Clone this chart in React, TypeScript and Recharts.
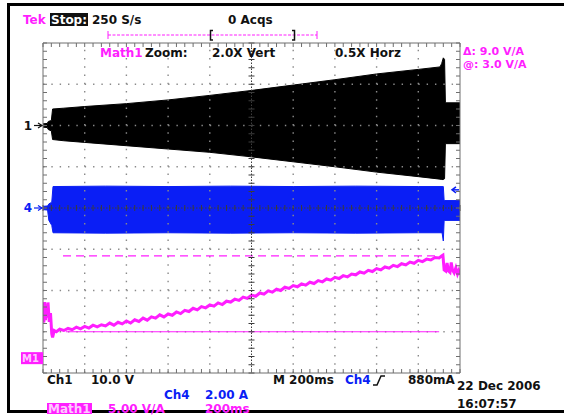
import React from 'react';
import { ComposedChart, Area, Line, XAxis, YAxis, ReferenceLine } from 'recharts';

const WIDTH = 564;
const HEIGHT = 415;
const FONT = "'DejaVu Sans', 'Liberation Sans', sans-serif";

const MAGENTA = '#ff1eff';
const BLUE = '#0a1ef5';
const GRID = '#8a8a8a';
const CENTER = '#3c3c3c';
const EDGE = '#6e6e6e';

// Graticule: 10 x 8 divisions, 5 minor steps per division
const xDomain: [number, number] = [0, 10];
const yDomain: [number, number] = [-4, 4];
const xGridLines = [1, 2, 3, 4, 6, 7, 8, 9];
const yGridLines = [-3, -2, -1, 1, 2, 3];
const xCenter = 5;
const yCenter = 0;
const minorPerDiv = 5;

// Channel ground references and trigger level (divisions)
const ch1Offset = 2;
const ch4Offset = 0;
const mathOffset = -3.64;
const triggerLevel = 0.44; // 880 mA at 2.00 A/div

// Horizontal bar cursors on Math1 (divisions) and their drawn span
const cursorUpper = -1.16;
const cursorLower = -3.0;
const cursorUpperSpan: [number, number] = [0.48, 9.52];
const cursorLowerSpan: [number, number] = [0.55, 9.5];

// Ch1 (10.0 V/div) envelope: [time div, low, high]
const ch1Envelope: [number, number, number][] = [
  [0, 1.96, 2.04],
  [0.1, 1.95, 2.05],
  [0.13, 1.9, 2.1],
  [0.2, 1.87, 2.12],
  [0.23, 1.66, 2.4],
  [0.5, 1.63, 2.42],
  [1, 1.59, 2.46],
  [2, 1.51, 2.53],
  [3, 1.43, 2.62],
  [4, 1.35, 2.73],
  [5, 1.24, 2.85],
  [6, 1.12, 2.98],
  [7, 1.0, 3.11],
  [8, 0.87, 3.25],
  [9, 0.76, 3.36],
  [9.52, 0.7, 3.42],
  [9.56, 0.69, 3.5],
  [9.6, 0.69, 3.64],
  [9.63, 0.71, 3.6],
  [9.65, 1.56, 2.55],
  [10, 1.56, 2.55],
];

// Ch4 (2.00 A/div) envelope: [time div, low, high]
const ch4Envelope: [number, number, number][] = [
  [0, -0.04, 0.04],
  [0.11, -0.05, 0.05],
  [0.14, -0.3, 0.1],
  [0.21, -0.42, 0.14],
  [0.24, -0.6, 0.52],
  [1.5, -0.61, 0.53],
  [3, -0.6, 0.52],
  [4.5, -0.61, 0.53],
  [6, -0.6, 0.52],
  [7.5, -0.61, 0.53],
  [9.0, -0.6, 0.52],
  [9.57, -0.6, 0.52],
  [9.6, -0.8, 0.52],
  [9.62, -0.3, 0.18],
  [10, -0.3, 0.18],
];

// Math1 (5.00 V/A) trace: [time div, value div]
const mathTrace: [number, number][] = [
  [0.0, -2.3], [0.02, -2.78], [0.04, -2.28], [0.06, -2.72], [0.08, -2.34], [0.1, -2.66],
  [0.12, -2.29], [0.15, -2.76], [0.18, -2.55], [0.21, -3.05], [0.23, -3.14], [0.27, -2.97],
  [0.32, -3.0], [0.4, -2.94], [0.5, -2.97], [0.6, -2.92], [0.7, -2.95], [0.8, -2.89],
  [0.9, -2.93], [1.0, -2.87], [1.1, -2.91], [1.2, -2.84], [1.3, -2.88], [1.4, -2.83],
  [1.5, -2.86], [1.6, -2.79], [1.7, -2.84], [1.8, -2.77], [1.9, -2.81], [2.0, -2.74],
  [2.1, -2.79], [2.2, -2.71], [2.3, -2.75], [2.4, -2.67], [2.5, -2.72], [2.6, -2.64],
  [2.7, -2.67], [2.8, -2.59], [2.9, -2.64], [3.0, -2.57], [3.1, -2.6], [3.2, -2.52],
  [3.3, -2.56], [3.4, -2.48], [3.5, -2.51], [3.6, -2.43], [3.7, -2.47], [3.8, -2.39],
  [3.9, -2.42], [4.0, -2.35], [4.1, -2.38], [4.2, -2.3], [4.3, -2.34], [4.4, -2.26],
  [4.5, -2.28], [4.6, -2.21], [4.7, -2.24], [4.8, -2.16], [4.9, -2.19], [5.0, -2.11],
  [5.1, -2.14], [5.2, -2.06], [5.3, -2.09], [5.4, -2.01], [5.5, -2.04], [5.6, -1.97],
  [5.7, -2.0], [5.8, -1.92], [5.9, -1.95], [6.0, -1.88], [6.1, -1.91], [6.2, -1.84],
  [6.3, -1.87], [6.4, -1.8], [6.5, -1.83], [6.6, -1.76], [6.7, -1.79], [6.8, -1.72],
  [6.9, -1.75], [7.0, -1.68], [7.1, -1.71], [7.2, -1.64], [7.3, -1.67], [7.4, -1.6],
  [7.5, -1.62], [7.6, -1.55], [7.7, -1.58], [7.8, -1.51], [7.9, -1.54], [8.0, -1.47],
  [8.1, -1.5], [8.2, -1.43], [8.3, -1.46], [8.4, -1.39], [8.5, -1.42], [8.6, -1.35],
  [8.7, -1.38], [8.8, -1.31], [8.9, -1.34], [9.0, -1.27], [9.1, -1.3], [9.2, -1.24],
  [9.3, -1.26], [9.4, -1.2], [9.5, -1.21], [9.56, -1.16], [9.59, -1.14], [9.62, -1.5],
  [9.66, -1.53], [9.69, -1.33], [9.72, -1.52], [9.76, -1.56], [9.79, -1.32], [9.82, -1.5],
  [9.86, -1.57], [9.9, -1.45], [9.94, -1.6], [9.97, -1.52], [10.0, -1.62],
];

const ch1Data = ch1Envelope.map(([t, lo, hi]) => ({ t, r: [lo, hi] }));
const ch4Data = ch4Envelope.map(([t, lo, hi]) => ({ t, r: [lo, hi] }));
const mathData = mathTrace.map(([t, v]) => ({ t, v }));

// Graticule line with minor-division ticks; side: +1/-1 inward direction, 0 = both
const tickedLine =
  (divs: number, side: number, len: number, color: string, dash?: string) =>
  (p: any) => {
    const { x1, y1, x2, y2 } = p;
    const horizontal = Math.abs(y1 - y2) < 0.5;
    const n = divs * minorPerDiv;
    const a = side === 0 ? -len / 2 : 0;
    const b = side === 0 ? len / 2 : side * len;
    const ticks = [];
    for (let i = 0; i <= n; i++) {
      const x = x1 + ((x2 - x1) * i) / n;
      const y = y1 + ((y2 - y1) * i) / n;
      ticks.push(
        horizontal ? (
          <line key={i} x1={x} x2={x} y1={y + a} y2={y + b} />
        ) : (
          <line key={i} x1={x + a} x2={x + b} y1={y} y2={y} />
        ),
      );
    }
    return (
      <g stroke={color} strokeWidth={1} fill="none">
        <line x1={x1} y1={y1} x2={x2} y2={y2} strokeDasharray={dash} />
        {ticks}
      </g>
    );
  };

const ChannelTag = ({ viewBox, text, color }: any) => {
  const { x, y } = viewBox;
  return (
    <g>
      <text
        x={x - 11}
        y={y}
        fill={color}
        fontSize={12}
        fontWeight="bold"
        fontFamily={FONT}
        textAnchor="end"
        dominantBaseline="central"
      >
        {text}
      </text>
      <line x1={x - 9} y1={y} x2={x - 1} y2={y} stroke={color} strokeWidth={1.2} />
      <path d={`M${x - 5},${y - 2.5} L${x - 1},${y} L${x - 5},${y + 2.5}`} fill="none" stroke={color} strokeWidth={1.2} />
    </g>
  );
};

const MathTag = ({ viewBox }: any) => {
  const { x, y } = viewBox;
  return (
    <g>
      <rect x={x - 22} y={y - 6} width={22} height={12} fill={MAGENTA} />
      <text x={x - 21} y={y + 0.5} fill="#ffc8ff" fontSize={10} fontWeight="bold" fontFamily={FONT} dominantBaseline="central">
        M1
      </text>
    </g>
  );
};

const TriggerTag = ({ viewBox }: any) => {
  const { x, y, width } = viewBox;
  const right = x + width;
  return (
    <g stroke={BLUE} strokeWidth={1.5} fill="none">
      <line x1={right - 7} y1={y} x2={right - 1} y2={y} />
      <path d={`M${right - 4},${y - 3} L${right - 8},${y} L${right - 4},${y + 3}`} />
    </g>
  );
};

const txt = (x: number, y: number, s: string, fill = '#111', size = 12) => (
  <text x={x} y={y} fill={fill} fontSize={size} fontWeight="bold" fontFamily={FONT} dominantBaseline="central">
    {s}
  </text>
);

export default function App() {
  return (
    <div style={{ position: 'absolute', left: 0, top: 0, width: WIDTH, height: HEIGHT, background: '#fff' }}>
      <ComposedChart width={WIDTH} height={HEIGHT} margin={{ top: 43, right: 104, bottom: 42, left: 43 }}>
        <XAxis type="number" dataKey="t" domain={xDomain} allowDataOverflow hide />
        <YAxis type="number" domain={yDomain} allowDataOverflow hide />

        {xGridLines.map((x) => (
          <ReferenceLine key={`gx${x}`} x={x} stroke={GRID} strokeWidth={1.4} strokeDasharray="1.4 6.85" />
        ))}
        {yGridLines.map((y) => (
          <ReferenceLine key={`gy${y}`} y={y} stroke={GRID} strokeWidth={1.4} strokeDasharray="1.4 6.94" />
        ))}

        <Area data={ch1Data} dataKey="r" type="linear" stroke="#000" strokeWidth={1} fill="#000" fillOpacity={1} isAnimationActive={false} />
        <Area data={ch4Data} dataKey="r" type="linear" stroke={BLUE} strokeWidth={1} fill={BLUE} fillOpacity={1} isAnimationActive={false} />
        <Line data={mathData} dataKey="v" type="linear" stroke={MAGENTA} strokeWidth={3} dot={false} isAnimationActive={false} />

        <ReferenceLine
          segment={[{ x: cursorUpperSpan[0], y: cursorUpper }, { x: cursorUpperSpan[1], y: cursorUpper }]}
          stroke={MAGENTA}
          strokeWidth={1.3}
          strokeDasharray="8 5"
        />
        <ReferenceLine
          segment={[{ x: cursorLowerSpan[0], y: cursorLower }, { x: cursorLowerSpan[1], y: cursorLower }]}
          stroke={MAGENTA}
          strokeWidth={1}
        />

        <ReferenceLine x={xCenter} shape={tickedLine(8, 0, 6, CENTER, '1.5 1.5')} />
        <ReferenceLine y={yCenter} shape={tickedLine(10, 0, 6, CENTER, '1.5 1.5')} />
        <ReferenceLine x={xDomain[0]} shape={tickedLine(8, 1, 4, EDGE)} />
        <ReferenceLine x={xDomain[1]} shape={tickedLine(8, -1, 4, EDGE)} />
        <ReferenceLine y={yDomain[1]} shape={tickedLine(10, 1, 4, EDGE)} />
        <ReferenceLine y={yDomain[0]} shape={tickedLine(10, -1, 4, EDGE)} />

        <ReferenceLine y={ch1Offset} stroke="none" label={(p: any) => <ChannelTag viewBox={p.viewBox} text="1" color="#111" />} />
        <ReferenceLine y={ch4Offset} stroke="none" label={(p: any) => <ChannelTag viewBox={p.viewBox} text="4" color={BLUE} />} />
        <ReferenceLine y={mathOffset} stroke="none" label={(p: any) => <MathTag viewBox={p.viewBox} />} />
        <ReferenceLine y={triggerLevel} stroke="none" label={(p: any) => <TriggerTag viewBox={p.viewBox} />} />
      </ComposedChart>

      <svg width={WIDTH} height={HEIGHT} style={{ position: 'absolute', left: 0, top: 0, pointerEvents: 'none' }}>
        <rect x={8.5} y={4.5} width={562} height={407} fill="none" stroke="#000" strokeWidth={3} />

        {txt(23, 20, 'Tek', MAGENTA)}
        <rect x={50} y={13} width={38} height={13} fill="#111" />
        {txt(51, 20, 'Stop:', '#fff')}
        {txt(92, 20, '250 S/s')}
        {txt(228, 20, '0 Acqs')}

        <line x1={108} y1={35} x2={317} y2={35} stroke={MAGENTA} strokeWidth={1} strokeDasharray="3 1.5" />
        <line x1={108} y1={31} x2={108} y2={39} stroke={MAGENTA} strokeWidth={1} />
        <line x1={317} y1={31} x2={317} y2={39} stroke={MAGENTA} strokeWidth={1} />
        <path d="M213,30.5 H210.5 V40 H213" fill="none" stroke="#111" strokeWidth={1.5} />
        <path d="M292,30.5 H294.5 V40 H292" fill="none" stroke="#111" strokeWidth={1.5} />

        {txt(100, 53, 'Math1', MAGENTA)}
        {txt(145, 53, 'Zoom:')}
        {txt(212, 53, '2.0X Vert')}
        {txt(335, 53, '0.5X Horz')}
        {txt(463, 51.5, 'Δ: 9.0 V/A', MAGENTA, 11)}
        {txt(463, 64.5, '@: 3.0 V/A', MAGENTA, 11)}

        {txt(47, 380, 'Ch1')}
        {txt(91, 380, '10.0 V')}
        {txt(273, 380, 'M 200ms')}
        {txt(345, 380, 'Ch4', BLUE)}
        <path d="M373,385 H377 L381,376 H385" fill="none" stroke="#111" strokeWidth={1.5} />
        {txt(408, 380, '880mA')}
        {txt(457, 386, '22 Dec 2006')}
        {txt(457, 404, '16:07:57')}
        {txt(164, 395, 'Ch4', BLUE)}
        {txt(205, 395, '2.00 A', BLUE)}
        <rect x={47} y={403} width={45} height={11} fill={MAGENTA} />
        {txt(48, 408.5, 'Math1', '#ffc8ff')}
        {txt(108, 409, '5.00 V/A', MAGENTA)}
        {txt(205, 409, '200ms', MAGENTA)}
      </svg>
    </div>
  );
}
